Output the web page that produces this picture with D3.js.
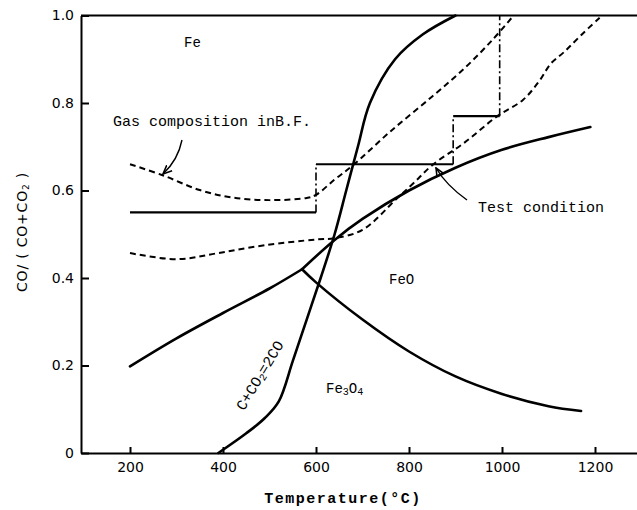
<!DOCTYPE html>
<html>
<head>
<meta charset="utf-8">
<script src="https://cdn.jsdelivr.net/npm/d3@7"></script>
<style>
  body { margin: 0; background: #fff; }
  svg { display: block; }
  .axis path, .axis line { stroke: #000; stroke-width: 2; }
  .axis text { font-family: "DejaVu Sans", sans-serif; font-size: 14px; fill: #000; }
  .mono { font-family: "Liberation Mono", "DejaVu Sans Mono", monospace; fill: #000; }
</style>
</head>
<body>
<svg class="chart" width="637" height="510"></svg>
<script>
const xTicks = [200, 400, 600, 800, 1000, 1200]
const yTicks = [0, 0.2, 0.4, 0.6, 0.8, 1.0]

// phase boundaries [temperature, CO/(CO+CO2)]
const feFe3o4 = [[200, 0.198], [300, 0.262], [400, 0.32], [500, 0.376], [570, 0.42]]
const feoFe = [[570, 0.42], [640, 0.487], [700, 0.535], [800, 0.6], [900, 0.652], [1000, 0.693], [1100, 0.722], [1190, 0.745]]
const fe3o4Feo = [[570, 0.42], [600, 0.39], [700, 0.305], [800, 0.232], [900, 0.175], [1000, 0.135], [1100, 0.107], [1170, 0.096]]
const boudouard = [[390, 0], [450, 0.045], [490, 0.08], [520, 0.118], [550, 0.21], [580, 0.305], [610, 0.4], [640, 0.5], [665, 0.6], [690, 0.7], [716, 0.8], [770, 0.9], [830, 0.957], [900, 1.0]]

// gas composition in blast furnace (two dashed limits)
const gasUpper = [[200, 0.66], [270, 0.635], [350, 0.601], [420, 0.584], [500, 0.578], [580, 0.583], [600, 0.59], [640, 0.625], [680, 0.658], [760, 0.735], [850, 0.815], [920, 0.88], [980, 0.945], [1025, 1.0]]
const gasLower = [[200, 0.457], [300, 0.443], [390, 0.457], [490, 0.475], [600, 0.488], [640, 0.491], [700, 0.51], [775, 0.583], [810, 0.617], [850, 0.658], [920, 0.71], [990, 0.77], [1045, 0.807], [1080, 0.85], [1105, 0.89], [1135, 0.918], [1170, 0.955], [1210, 0.995]]

// test condition: solid steps and dash-dot risers
const testSteps = [[[200, 0.55], [600, 0.55]], [[600, 0.66], [895, 0.66]], [[895, 0.77], [995, 0.77]]]
const testRisers = [[[600, 0.55], [600, 0.66]], [[895, 0.66], [895, 0.77]], [[995, 0.77], [995, 1.0]]]

const svg = d3.select("svg.chart")
const plotLeft = 81, plotRight = 637, plotTop = 15.5, plotBottom = 453

const x = d3.scaleLinear().domain([200, 1200]).range([130, 595])
const y = d3.scaleLinear().domain([0, 1]).range([plotBottom, plotTop])

const line = d3.line().x(d => x(d[0])).y(d => y(d[1])).curve(d3.curveCatmullRom.alpha(0.5))
const straight = d3.line().x(d => x(d[0])).y(d => y(d[1]))

// axes
const xAxisScale = x.copy().domain([x.invert(plotLeft), x.invert(plotRight)]).range([plotLeft, plotRight])
svg.append("g")
  .attr("class", "axis")
  .attr("transform", `translate(0,${plotBottom})`)
  .call(d3.axisBottom(xAxisScale).tickValues(xTicks).tickSizeInner(-6).tickSizeOuter(0).tickPadding(9).tickFormat(d3.format("d")))

svg.append("g")
  .attr("class", "axis")
  .attr("transform", `translate(${plotLeft},0)`)
  .call(d3.axisLeft(y).tickValues(yTicks).tickSizeInner(-8).tickSizeOuter(0).tickPadding(7)
    .tickFormat(d => d === 0 ? "0" : d3.format(".1f")(d)))

svg.append("line")
  .attr("x1", plotLeft).attr("x2", plotRight).attr("y1", plotTop).attr("y2", plotTop)
  .attr("stroke", "#000").attr("stroke-width", 2)

// boundaries
const plot = svg.append("g")
;[feFe3o4, feoFe, fe3o4Feo, boudouard].forEach(pts => {
  plot.append("path")
    .attr("d", line(pts))
    .attr("fill", "none")
    .attr("stroke", "#000")
    .attr("stroke-width", 2.6)
    .attr("stroke-linecap", "round")
})

;[gasUpper, gasLower].forEach(pts => {
  plot.append("path")
    .attr("d", line(pts))
    .attr("fill", "none")
    .attr("stroke", "#000")
    .attr("stroke-width", 2)
    .attr("stroke-dasharray", "6,4")
})

testSteps.forEach(seg => {
  plot.append("path")
    .attr("d", straight(seg))
    .attr("fill", "none")
    .attr("stroke", "#000")
    .attr("stroke-width", 2.2)
})
testRisers.forEach(seg => {
  plot.append("path")
    .attr("d", straight(seg))
    .attr("fill", "none")
    .attr("stroke", "#000")
    .attr("stroke-width", 1.6)
    .attr("stroke-dasharray", "8,3,2,3")
})

// leader arrows
svg.append("defs").append("marker")
  .attr("id", "head")
  .attr("viewBox", "0 0 10 10")
  .attr("refX", 9).attr("refY", 5)
  .attr("markerWidth", 7).attr("markerHeight", 7)
  .attr("orient", "auto")
  .append("path")
  .attr("d", "M0,1 L9,5 L0,9")
  .attr("fill", "none")
  .attr("stroke", "#000")
  .attr("stroke-width", 1.6)

svg.append("path")
  .attr("d", "M182,140 Q178,160 163,174")
  .attr("fill", "none").attr("stroke", "#000").attr("stroke-width", 1.4)
  .attr("marker-end", "url(#head)")

svg.append("path")
  .attr("d", "M467,200 Q446,185 436,168")
  .attr("fill", "none").attr("stroke", "#000").attr("stroke-width", 1.4)
  .attr("marker-end", "url(#head)")

// labels
const label = (tx, ty, txt, size = 14) => svg.append("text")
  .attr("class", "mono")
  .attr("x", tx).attr("y", ty)
  .attr("font-size", size)
  .text(txt)

label(184, 47, "Fe")
label(113, 126, "Gas composition inB.F.", 15)
label(478, 212, "Test condition", 15)
label(389, 284, "FeO")

const fe3o4 = svg.append("text").attr("class", "mono").attr("x", 326).attr("y", 393).attr("font-size", 14)
fe3o4.append("tspan").text("Fe")
fe3o4.append("tspan").attr("font-size", 10).attr("dy", 2).text("3")
fe3o4.append("tspan").attr("dy", -2).text("O")
fe3o4.append("tspan").attr("font-size", 10).attr("dy", 2).text("4")

const bLabel = svg.append("text").attr("class", "mono")
  .attr("transform", "translate(264,378) rotate(-59)")
  .attr("text-anchor", "middle")
  .attr("font-size", 15)
bLabel.append("tspan").text("C+CO")
bLabel.append("tspan").attr("font-size", 10).attr("dy", 2).text("2")
bLabel.append("tspan").attr("dy", -2).text("=2CO")

svg.append("text")
  .attr("class", "mono")
  .attr("x", 343).attr("y", 503)
  .attr("text-anchor", "middle")
  .attr("font-size", 15)
  .attr("font-weight", "bold")
  .attr("letter-spacing", 1.5)
  .text("Temperature(°C)")

const yTitle = svg.append("text")
  .attr("transform", "translate(27,232) rotate(-90)")
  .attr("text-anchor", "middle")
  .attr("font-family", "DejaVu Sans, sans-serif")
  .attr("font-size", 14)
  .attr("letter-spacing", 0.8)
yTitle.append("tspan").text("CO/ ( CO+CO")
yTitle.append("tspan").attr("font-size", 9).attr("dy", 2).text("2")
yTitle.append("tspan").attr("dy", -2).text(" )")
</script>
</body>
</html>
